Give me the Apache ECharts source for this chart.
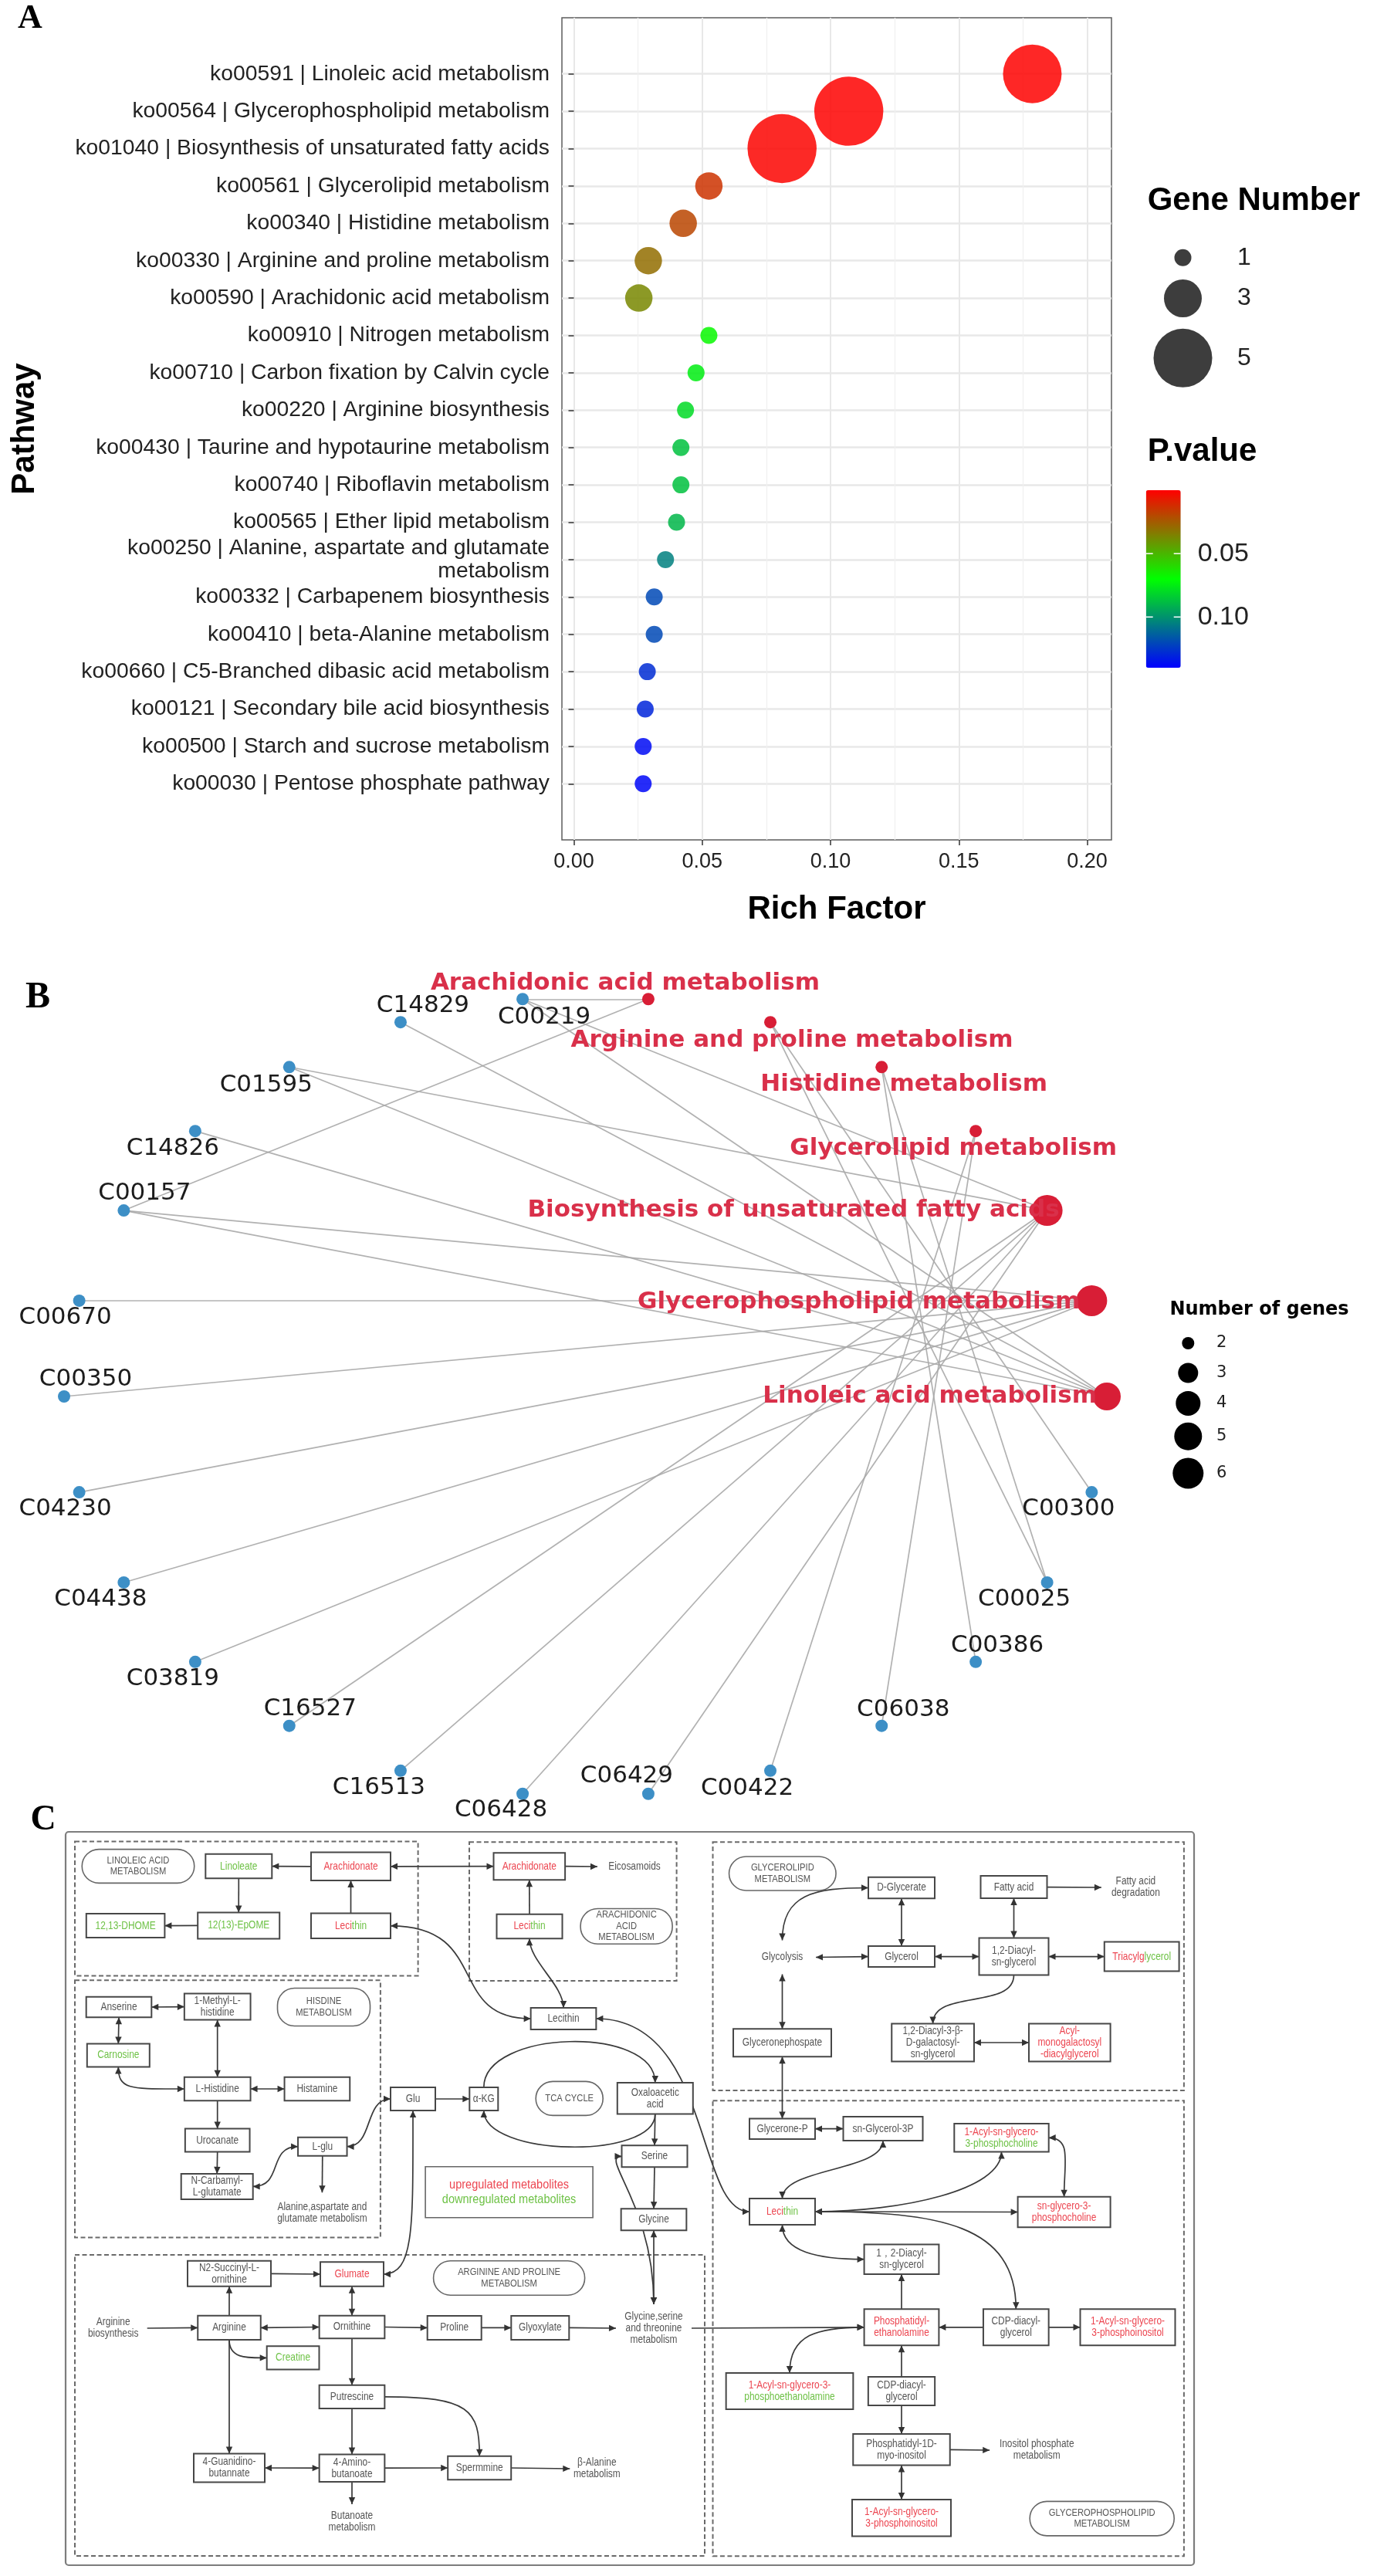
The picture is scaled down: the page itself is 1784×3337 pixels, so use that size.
<!DOCTYPE html>
<html><head><meta charset="utf-8">
<script src="https://cdn.jsdelivr.net/npm/echarts@6/dist/echarts.min.js"></script>
<style>html,body{margin:0;padding:0;background:#fff}#c{width:1784px;height:3337px}</style>
</head><body><div id="c"></div>
<script>
// ================= PANEL A DATA =================
const pathways = [
 'ko00591 | Linoleic acid metabolism',
 'ko00564 | Glycerophospholipid metabolism',
 'ko01040 | Biosynthesis of unsaturated fatty acids',
 'ko00561 | Glycerolipid metabolism',
 'ko00340 | Histidine metabolism',
 'ko00330 | Arginine and proline metabolism',
 'ko00590 | Arachidonic acid metabolism',
 'ko00910 | Nitrogen metabolism',
 'ko00710 | Carbon fixation by Calvin cycle',
 'ko00220 | Arginine biosynthesis',
 'ko00430 | Taurine and hypotaurine metabolism',
 'ko00740 | Riboflavin metabolism',
 'ko00565 | Ether lipid metabolism',
 'ko00250 | Alanine, aspartate and glutamate\nmetabolism',
 'ko00332 | Carbapenem biosynthesis',
 'ko00410 | beta-Alanine metabolism',
 'ko00660 | C5-Branched dibasic acid metabolism',
 'ko00121 | Secondary bile acid biosynthesis',
 'ko00500 | Starch and sucrose metabolism',
 'ko00030 | Pentose phosphate pathway'
];
const richFactor = [0.1786, 0.1071, 0.0811, 0.0526, 0.0426, 0.0290, 0.0253, 0.0526, 0.0476, 0.0435,
                    0.0417, 0.0417, 0.0400, 0.0357, 0.0313, 0.0313, 0.0286, 0.0278, 0.0270, 0.0270];
const geneNumber = [5, 6, 6, 2, 2, 2, 2, 1, 1, 1, 1, 1, 1, 1, 1, 1, 1, 1, 1, 1];
const pValue = [0.0004, 0.0003, 0.0010, 0.014, 0.019, 0.030, 0.037, 0.068, 0.075, 0.080,
                0.087, 0.087, 0.090, 0.105, 0.120, 0.120, 0.128, 0.130, 0.137, 0.138];
const richTicks = [0, 0.05, 0.10, 0.15, 0.20];
const geneLegend = [1, 3, 5];
const pLegendTicks = [0.05, 0.10];
const pRange = [0, 0.14];

// ================= PANEL B DATA =================
const netNodes = ['Linoleic acid metabolism', 'Glycerophospholipid metabolism',
 'Biosynthesis of unsaturated fatty acids', 'Glycerolipid metabolism', 'Histidine metabolism',
 'Arginine and proline metabolism', 'Arachidonic acid metabolism',
 'C00219', 'C14829', 'C01595', 'C14826', 'C00157', 'C00670', 'C00350', 'C04230', 'C04438',
 'C03819', 'C16527', 'C16513', 'C06428', 'C06429', 'C00422', 'C06038', 'C00386', 'C00025', 'C00300'];
const netPathways = netNodes.slice(0, 7);
const netLinks = [
 ['C00219', 'Arachidonic acid metabolism'], ['C00157', 'Arachidonic acid metabolism'],
 ['C00025', 'Arginine and proline metabolism'], ['C00300', 'Arginine and proline metabolism'],
 ['C00025', 'Histidine metabolism'], ['C00386', 'Histidine metabolism'],
 ['C00422', 'Glycerolipid metabolism'], ['C06038', 'Glycerolipid metabolism'],
 ['C00219', 'Biosynthesis of unsaturated fatty acids'], ['C01595', 'Biosynthesis of unsaturated fatty acids'],
 ['C16527', 'Biosynthesis of unsaturated fatty acids'], ['C16513', 'Biosynthesis of unsaturated fatty acids'],
 ['C06428', 'Biosynthesis of unsaturated fatty acids'], ['C06429', 'Biosynthesis of unsaturated fatty acids'],
 ['C00157', 'Glycerophospholipid metabolism'], ['C00670', 'Glycerophospholipid metabolism'],
 ['C00350', 'Glycerophospholipid metabolism'], ['C04230', 'Glycerophospholipid metabolism'],
 ['C04438', 'Glycerophospholipid metabolism'], ['C03819', 'Glycerophospholipid metabolism'],
 ['C00157', 'Linoleic acid metabolism'], ['C00219', 'Linoleic acid metabolism'],
 ['C01595', 'Linoleic acid metabolism'], ['C14826', 'Linoleic acid metabolism'],
 ['C14829', 'Linoleic acid metabolism']
];
const geneCountLegend = [2, 3, 4, 5, 6];

// ================= PANEL C DATA (pathway map) =================
const cNodes = [
 ['linLabel','pill','LINOLEIC ACID\nMETABOLISM'], ['linoleate','box','{g|Linoleate}'],
 ['araL','box','{r|Arachidonate}'], ['dhome','box','{g|12,13-DHOME}'], ['epome','box','{g|12(13)-EpOME}'],
 ['lecL','box','{r|Leci}{g|thin}'], ['araR','box','{r|Arachidonate}'], ['eico','text','Eicosamoids'],
 ['lecR','box','{r|Leci}{g|thin}'], ['araLabel','pill','ARACHIDONIC\nACID\nMETABOLISM'],
 ['anserine','box','Anserine'], ['methylHis','box','1-Methyl-L-\nhistidine'], ['hisLabel','pill','HISDINE\nMETABOLISM'],
 ['carnosine','box','{g|Carnosine}'], ['lHis','box','L-Histidine'], ['histamine','box','Histamine'],
 ['urocanate','box','Urocanate'], ['lglu','box','L-glu'], ['ncarb','box','N-Carbamyl-\nL-glutamate'],
 ['alaText','text','Alanine,aspartate and\nglutamate metabolism'],
 ['lecM','box','Lecithin'], ['glu','box','Glu'], ['akg','box','α-KG'], ['tcaLabel','pill','TCA CYCLE'],
 ['oxa','box','Oxaloacetic\nacid'], ['serine','box','Serine'], ['glycine','box','Glycine'],
 ['legend','legend','{r|upregulated metabolites}\n{g|downregulated metabolites}'],
 ['glyText','text','Glycine,serine\nand threonine\nmetabolism'],
 ['n2suc','box','N2-Succinyl-L-\nornithine'], ['glumate','box','{r|Glumate}'],
 ['argLabel','pill','ARGININE AND PROLINE\nMETABOLISM'], ['argBioText','text','Arginine\nbiosynthesis'],
 ['arginine','box','Arginine'], ['ornithine','box','Ornithine'], ['proline','box','Proline'],
 ['glyoxylate','box','Glyoxylate'], ['creatine','box','{g|Creatine}'], ['putrescine','box','Putrescine'],
 ['guan','box','4-Guanidino-\nbutannate'], ['amino','box','4-Amino-\nbutanoate'], ['spermine','box','Spermmine'],
 ['betaText','text','β-Alanine\nmetabolism'], ['butText','text','Butanoate\nmetabolism'],
 ['glLabel','pill','GLYCEROLIPID\nMETABOLISM'], ['dglycerate','box','D-Glycerate'], ['fattyacid','box','Fatty acid'],
 ['faDegText','text','Fatty acid\ndegradation'], ['glycolysis','text','Glycolysis'], ['glycerol','box','Glycerol'],
 ['dag','box','1,2-Diacyl-\nsn-glycerol'], ['tag','box','{r|Triacylg}{g|lycerol}'], ['gnp','box','Glyceronephospate'],
 ['dgdg','box','1,2-Diacyl-3-β-\nD-galactosyl-\nsn-glycerol'], ['amgdg','box','{r|Acyl-}\n{r|monogalactosyl}\n{r|-diacylglycerol}'],
 ['gp','box','Glycerone-P'], ['sng3p','box','sn-Glycerol-3P'], ['lpc','box','{r|1-Acyl-sn-glycero-}\n{g|3-phosphocholine}'],
 ['lecG','box','{r|Leci}{g|thin}'], ['gpc','box','{r|sn-glycero-3-}\n{r|phosphocholine}'],
 ['dag2','box','1，2-Diacyl-\nsn-glycerol'], ['pe','box','{r|Phosphatidyl-}\n{r|ethanolamine}'],
 ['cdp1','box','CDP-diacyl-\nglycerol'], ['lpi1','box','{r|1-Acyl-sn-glycero-}\n{r|3-phosphoinositol}'],
 ['lpe','box','{r|1-Acyl-sn-glycero-3-}\n{g|phosphoethanolamine}'], ['cdp2','box','CDP-diacyl-\nglycerol'],
 ['pi','box','Phosphatidyl-1D-\nmyo-inositol'], ['inoText','text','Inositol phosphate\nmetabolism'],
 ['lpi2','box','{r|1-Acyl-sn-glycero-}\n{r|3-phosphoinositol}'], ['gplLabel','pill','GLYCEROPHOSPHOLIPID\nMETABOLISM']
];
// reactions: [from, side, to, side, heads, curve control lengths]
const cEdges = [
 ['araL','l','linoleate','r','>'], ['linoleate','b','epome','t','>'], ['epome','l','dhome','r','>'],
 ['lecL','t','araL','b','>'], ['araL','r','araR','l','<>'], ['araR','r','eico','l','>'], ['lecR','t','araR','b','>'],
 ['lecL','r','lecM','l','<>',[130,110]], ['lecR','b','lecM','t','<>',[30,30]], ['lecM','r','lecG','l','<>',[150,70]],
 ['anserine','r','methylHis','l','<>'], ['anserine','b','carnosine','t','<>'], ['methylHis','b','lHis','t','<>'],
 ['carnosine','b','lHis','l','<>',[30,70]], ['lHis','r','histamine','l','<>'], ['lHis','b','urocanate','t','>'],
 ['urocanate','b','ncarb','t','>'], ['ncarb','r','lglu','l','<>',[40,40]], ['lglu','r','glu','l','<>',[35,35]],
 ['lglu','b','alaText','t','>'], ['glu','r','akg','l','>'], ['akg','t','oxa','t','>',[75,75]],
 ['oxa','b','akg','b','>',[60,60]], ['oxa','b','serine','t','>'], ['serine','b','glycine','t','>'],
 ['glycine','b','glyText','t','<>'], ['serine','l','glyText','t','<>',[30,130]], ['glu','b','glumate','r','<>',[150,40]],
 ['argBioText','r','arginine','l','>'], ['arginine','t','n2suc','b','>'], ['n2suc','r','glumate','l','>'],
 ['glumate','b','ornithine','t','<>'], ['arginine','r','ornithine','l','<>'], ['arginine','b','creatine','l','>',[25,25]],
 ['arginine','b','guan','t','>'], ['ornithine','r','proline','l','>'], ['proline','r','glyoxylate','l','>'],
 ['glyoxylate','r','glyText','l','>'], ['ornithine','b','putrescine','t','>'], ['putrescine','b','amino','t','>'],
 ['putrescine','r','spermine','t','>',[110,60]], ['guan','r','amino','l','<>'], ['amino','r','spermine','l','>'],
 ['spermine','r','betaText','l','>'], ['amino','b','butText','t','>'],
 ['dglycerate','l','glycolysis','t','<>',[70,60]], ['dglycerate','b','glycerol','t','<>'], ['fattyacid','b','dag','t','<>'],
 ['fattyacid','r','faDegText','l','>'], ['glycolysis','r','glycerol','l','<>'], ['glycerol','r','dag','l','<>'],
 ['dag','r','tag','l','<>'], ['dag','b','dgdg','t','>',[45,45]], ['dgdg','r','amgdg','l','<>'],
 ['glycolysis','b','gnp','t','<>'], ['gnp','b','gp','t','<>'], ['gp','r','sng3p','l','<>'],
 ['lecG','t','sng3p','b','<>',[40,40]], ['lecG','r','lpc','b','<>',[110,50]], ['lecG','r','gpc','l','<>'],
 ['lpc','r','gpc','t','<>',[30,45]], ['lecG','r','cdp1','t','>',[160,110]], ['lecG','b','dag2','l','<>',[35,60]],
 ['pe','t','dag2','b','>'], ['cdp1','l','pe','r','>'], ['cdp1','r','lpi1','l','>'], ['pe','l','lpe','t','<>',[60,50]],
 ['cdp2','t','pe','b','>'], ['cdp2','b','pi','t','>'], ['pi','r','inoText','l','>'], ['pi','b','lpi2','t','<>'],
 ['glyText','r','pe','l','>']
];

// ================= LAYOUT / STYLE (not data) =================
const SANS = '"Liberation Sans", Arial, Helvetica, sans-serif';
const DJ = '"DejaVu Sans", sans-serif';
const SERIF = '"Liberation Serif", "Times New Roman", serif';
const A_LEFT = 728, A_RIGHT = 1440, A_TOP = 23, A_BOTTOM = 1088;
const X0PX = 743.5, PX_PER_UNIT = 3325.5;
const XMIN = (A_LEFT - X0PX) / PX_PER_UNIT, XMAX = (A_RIGHT - X0PX) / PX_PER_UNIT;
const ROW_TOP = 95.7, ROW_BOTTOM = 1015.3;
const bubble = n => 22 + 13.5 * (n - 1);
const CB = {left: 1484.7, top: 635, w: 45, h: 230};
const geneLegendY = [333.7, 386.5, 463.8];

const B = {cx: 758.5, cy: 1809, rx: 675.5, ry: 518.5};
const netSize = {2: 16, 3: 26, 4: 32, 5: 36, 6: 40};
const netLegendY = [1740, 1778.5, 1817.9, 1860.7, 1908.6];
const RED = '#d81e36', REDT = '#d9304a', BLUE = '#3d8fc6';
const netLabelPos = {
 'Linoleic acid metabolism': [-13, 0, 'right'], 'Glycerophospholipid metabolism': [-15, 2, 'right'],
 'Biosynthesis of unsaturated fatty acids': [16, 0, 'right'], 'Glycerolipid metabolism': [-29, 23],
 'Histidine metabolism': [29, 23], 'Arginine and proline metabolism': [28, 24],
 'Arachidonic acid metabolism': [-30, -20],
 'C00219': [28, 23.5], 'C14829': [29, -21], 'C01595': [-30, 23.5], 'C14826': [-29, 23], 'C00157': [27, -22],
 'C00670': [-18, 22], 'C00350': [28, -22], 'C04230': [-18, 22], 'C04438': [-30, 22], 'C03819': [-29, 22],
 'C16527': [27, -21.5], 'C16513': [-28, 22], 'C06428': [-28, 21], 'C06429': [-28, -23], 'C00422': [-30, 23],
 'C06038': [28, -21], 'C00386': [28, -21], 'C00025': [-29.5, 21.7], 'C00300': [-30, 21.5]
};

// panel C layout: id -> [cx, cy, w, h] in page pixels of the reference
const cLayout = {
 linLabel:[179,2417.5,145.5,43.7], linoleate:[309.3,2417.6,86,31.5], araL:[454.5,2417.8,103,36.5],
 dhome:[162.6,2494.6,101.6,31], epome:[309.2,2494.4,106,34], lecL:[454.5,2494.8,103,32.5],
 araR:[685.8,2417.7,92.6,35], eico:[822,2418,96,16], lecR:[686,2495.5,85,31.5], araLabel:[811.6,2495.4,119,45.7],
 anserine:[154,2600,84.6,26.5], methylHis:[281.7,2599.6,85.7,34], hisLabel:[419.5,2600,120,49],
 carnosine:[153.3,2662.5,81,30], lHis:[281.7,2706,85.7,30.5], histamine:[410.9,2706,84.7,30.5],
 urocanate:[281.7,2772.6,83.7,30], lglu:[417.8,2780.7,63.5,24], ncarb:[281.2,2832.4,93,33],
 alaText:[417.4,2866.3,125,52],
 lecM:[730,2615,84.7,28], glu:[535,2719,58,30], akg:[626.8,2719,37,30], tcaLabel:[737.7,2718.4,87,44],
 oxa:[848.8,2718.2,98,40.4], serine:[848,2793.3,85,28], glycine:[847,2875.2,84.7,28],
 legend:[659.6,2839.8,217,66], glyText:[847,3016,98,62],
 n2suc:[297,2945.3,108,33], glumate:[456,2946,82,31.4], argLabel:[659.6,2951,196,44.5],
 argBioText:[146.7,3016,88,30], arginine:[297,3015.4,81.5,31.3], ornithine:[456,3014.5,84.7,29.7],
 proline:[588.7,3015.4,70,31], glyoxylate:[699.8,3015.4,75,31], creatine:[379.6,3054.4,67.8,30.3],
 putrescine:[456,3104.9,84.7,30.3], guan:[297,3197,92,37], amino:[456,3197.2,84.7,35.6],
 spermine:[621.2,3197,82,30.7], betaText:[773.3,3198,70,30], butText:[456,3267,70,46],
 glLabel:[1013.8,2427,138.5,44], dglycerate:[1168,2445.5,86,27.5], fattyacid:[1313.5,2444.6,86,29],
 faDegText:[1471.4,2445,89,30], glycolysis:[1013.5,2535.5,87,44], glycerol:[1168,2534.6,86,27],
 dag:[1313.5,2534.6,90,48], tag:[1479.2,2534.6,96.8,38], gnp:[1013.5,2646.2,127,36],
 dgdg:[1208.6,2646,106.7,48.8], amgdg:[1385.8,2646,105.6,48.8],
 gp:[1013.5,2757.7,85,26.5], sng3p:[1144,2757.6,103,31], lpc:[1297.5,2769.3,122.4,36.5],
 lecG:[1013.5,2865,85,34], gpc:[1378.6,2865.5,120,39.6], dag2:[1168,2926.7,96.8,38.6],
 pe:[1168,3014.8,96.8,47], cdp1:[1316.3,3014.8,84.7,47], lpi1:[1461,3014.8,123,47],
 lpe:[1023,3097.4,164.7,47], cdp2:[1168,3097.4,86.3,37], pi:[1168,3173.3,125.5,40.6],
 inoText:[1343.2,3174,122,30], lpi2:[1168,3261.8,128,47.5], gplLabel:[1427.7,3262.6,187,44.5]
};
const cFrames = [
 [85, 2373, 1547, 3323, 'solid'],
 [97, 2385.6, 541.6, 2559.4, 'dash'], [608, 2386.3, 876.6, 2566, 'dash'],
 [97, 2565.3, 492.9, 2898.5, 'dash'], [97, 2921, 913, 3311, 'dash'],
 [923.5, 2386.3, 1533.9, 2708, 'dash'], [923.5, 2721.2, 1533.9, 3311.3, 'dash']
];
const C_X = [85, 1547], C_Y = [2373, 3323];
const C_RICH = {r: {fill: '#ec4651'}, g: {fill: '#6fc247'}};
const C_FONT = {box: [14.2, 0.84, 15], pill: [13, 0.86, 14.5], text: [14, 0.85, 15], legend: [16.5, 0.88, 19]};
const SIDE = {l: [-1, 0], r: [1, 0], t: [0, -1], b: [0, 1]};

// ================= BUILD =================
const scatterData = pathways.map((p, i) => [richFactor[i], p, geneNumber[i], pValue[i]]);

const degree = name => netLinks.filter(l => l[0] === name || l[1] === name).length;
const netData = netNodes.map((name, k) => {
  const th = 2 * Math.PI * k / netNodes.length;   // circular layout
  const isPath = netPathways.indexOf(name) >= 0;
  const lp = netLabelPos[name];
  return {
    name: name, value: [Math.cos(th), Math.sin(th)],
    symbolSize: isPath ? netSize[degree(name)] : 16,
    itemStyle: {color: isPath ? RED : BLUE},
    label: {
      show: true, position: 'inside', offset: [lp[0], lp[1]],
      align: lp[2] || 'center', verticalAlign: 'middle',
      fontFamily: DJ, fontSize: 31, fontWeight: isPath ? 'bold' : 'normal',
      color: isPath ? REDT : '#1c1c1c'
    }
  };
});

function anchor(id, side) {
  const L = cLayout[id], d = SIDE[side];
  return [L[0] + d[0] * L[2] / 2, L[1] + d[1] * L[3] / 2];
}
function arrowHead(tip, dir) {
  const len = Math.hypot(dir[0], dir[1]) || 1;
  const u = [dir[0] / len, dir[1] / len], p = [-u[1], u[0]];
  const bx = tip[0] - u[0] * 9, by = tip[1] - u[1] * 9;
  return {type: 'polygon', shape: {points: [tip, [bx + p[0] * 4.2, by + p[1] * 4.2], [bx - p[0] * 4.2, by - p[1] * 4.2]]},
          style: {fill: '#333'}};
}

const option = {
  animation: false,
  backgroundColor: '#ffffff',
  grid: [
    {left: A_LEFT, top: A_TOP, width: A_RIGHT - A_LEFT, height: A_BOTTOM - A_TOP, show: true,
     borderColor: '#5c5c5c', borderWidth: 1.5, backgroundColor: 'transparent', outerBoundsMode: 'none'},
    {left: X0PX, top: A_TOP, width: 0.2 * PX_PER_UNIT, height: A_BOTTOM - A_TOP, outerBoundsMode: 'none'},
    {left: A_LEFT, top: ROW_TOP, width: A_RIGHT - A_LEFT, height: ROW_BOTTOM - ROW_TOP, outerBoundsMode: 'none'},
    {left: B.cx - B.rx, top: B.cy - B.ry, width: 2 * B.rx, height: 2 * B.ry, outerBoundsMode: 'none'},
    {left: C_X[0], top: C_Y[0], width: C_X[1] - C_X[0], height: C_Y[1] - C_Y[0], outerBoundsMode: 'none'}
  ],
  xAxis: [
    {gridIndex: 0, type: 'value', min: XMIN, max: XMAX, show: false},
    {gridIndex: 1, type: 'value', min: richTicks[0], max: richTicks[richTicks.length - 1], interval: 0.05,
     axisLine: {show: false},
     axisTick: {show: true, length: 7, lineStyle: {color: '#333', width: 1.5}},
     axisLabel: {margin: 15, fontFamily: SANS, fontSize: 27, color: '#222', formatter: v => v.toFixed(2)},
     splitLine: {show: true, lineStyle: {color: '#e8e8e8', width: 2}},
     minorTick: {show: false, splitNumber: 2},
     minorSplitLine: {show: true, lineStyle: {color: '#f0f0f0', width: 1.3}}},
    {gridIndex: 2, type: 'value', min: XMIN, max: XMAX, show: false},
    {gridIndex: 3, type: 'value', min: -1, max: 1, show: false},
    {gridIndex: 4, type: 'value', min: C_X[0], max: C_X[1], show: false}
  ],
  yAxis: [
    {gridIndex: 0, type: 'value', show: false},
    {gridIndex: 1, type: 'value', show: false},
    {gridIndex: 2, type: 'category', data: pathways, inverse: true, boundaryGap: false,
     axisLine: {show: false},
     axisTick: {show: true, length: 7, interval: 0, lineStyle: {color: '#333', width: 1.5}},
     axisLabel: {interval: 0, margin: 16, fontFamily: SANS, fontSize: 28.3, color: '#222', lineHeight: 30, align: 'right'},
     splitLine: {show: true, interval: 0, lineStyle: {color: '#e8e8e8', width: 2.5}}},
    {gridIndex: 3, type: 'value', min: -1, max: 1, show: false},
    {gridIndex: 4, type: 'value', min: C_Y[0], max: C_Y[1], inverse: true, show: false}
  ],
  visualMap: [{
    type: 'continuous', seriesIndex: 0, dimension: 3, min: pRange[0], max: pRange[1],
    inRange: {color: ['#ff0000', '#00ff00', '#0000ff']}, inverse: true, calculable: false,
    orient: 'vertical', left: CB.left, top: CB.top, itemWidth: CB.w, itemHeight: CB.h,
    padding: 0, text: null, showLabel: false, hoverLink: false, realtime: false
  }],
  series: [
    {
      type: 'scatter', xAxisIndex: 2, yAxisIndex: 2, data: scatterData, z: 5,
      symbolSize: v => bubble(v[2]), itemStyle: {opacity: 0.85}, silent: true
    },
    {
      type: 'graph', coordinateSystem: 'cartesian2d', xAxisIndex: 3, yAxisIndex: 3, layout: 'none',
      data: netData, links: netLinks.map(l => ({source: l[0], target: l[1]})),
      lineStyle: {color: '#a8a8a8', width: 1.7, opacity: 0.9, curveness: 0}, silent: true, z: 3
    },
    { // dashed group frames
      type: 'custom', xAxisIndex: 4, yAxisIndex: 4, silent: true, z: 2, clip: false,
      data: cFrames.map(f => [f[0], f[1], f[2], f[3]]),
      renderItem: function (params, api) {
        const f = cFrames[params.dataIndex];
        const a = api.coord([f[0], f[1]]), b = api.coord([f[2], f[3]]);
        const dash = f[4] === 'dash';
        return {type: 'rect', shape: {x: a[0], y: a[1], width: b[0] - a[0], height: b[1] - a[1], r: dash ? 0 : 4},
                style: {fill: null, stroke: dash ? '#6a6a6a' : '#7d7d7d', lineWidth: dash ? 2 : 2.2,
                        lineDash: dash ? [6, 3.5] : null}};
      }
    },
    { // reactions
      type: 'custom', xAxisIndex: 4, yAxisIndex: 4, silent: true, z: 3, clip: false,
      data: cEdges.map(e => anchor(e[0], e[1])),
      renderItem: function (params, api) {
        const e = cEdges[params.dataIndex];
        const a = anchor(e[0], e[1]), b = anchor(e[2], e[3]);
        const p1 = api.coord(a), p2 = api.coord(b);
        const st = {stroke: '#3a3a3a', lineWidth: 1.7, fill: null};
        const ch = [];
        let dEnd, dStart;
        if (e[5]) {
          const s1 = SIDE[e[1]], s2 = SIDE[e[3]];
          const c1 = api.coord([a[0] + s1[0] * e[5][0], a[1] + s1[1] * e[5][0]]);
          const c2 = api.coord([b[0] + s2[0] * e[5][1], b[1] + s2[1] * e[5][1]]);
          ch.push({type: 'bezierCurve', shape: {x1: p1[0], y1: p1[1], x2: p2[0], y2: p2[1],
                   cpx1: c1[0], cpy1: c1[1], cpx2: c2[0], cpy2: c2[1]}, style: st});
          dEnd = [p2[0] - c2[0], p2[1] - c2[1]]; dStart = [p1[0] - c1[0], p1[1] - c1[1]];
        } else {
          ch.push({type: 'line', shape: {x1: p1[0], y1: p1[1], x2: p2[0], y2: p2[1]}, style: st});
          dEnd = [p2[0] - p1[0], p2[1] - p1[1]]; dStart = [-dEnd[0], -dEnd[1]];
        }
        ch.push(arrowHead(p2, dEnd));
        if (e[4] === '<>') ch.push(arrowHead(p1, dStart));
        return {type: 'group', children: ch};
      }
    },
    { // metabolite boxes and labels
      type: 'custom', xAxisIndex: 4, yAxisIndex: 4, silent: true, z: 4, clip: false,
      data: cNodes.map(n => [cLayout[n[0]][0], cLayout[n[0]][1]]),
      renderItem: function (params, api) {
        const n = cNodes[params.dataIndex], L = cLayout[n[0]], kind = n[1];
        const c = api.coord([L[0], L[1]]), s = api.size([L[2], L[3]]);
        const ch = [];
        if (kind !== 'text') {
          ch.push({type: 'rect', shape: {x: c[0] - s[0] / 2, y: c[1] - s[1] / 2, width: s[0], height: s[1],
                   r: kind === 'pill' ? Math.min(s[1] / 2, 22) : 0},
                   style: {fill: '#fff', stroke: kind === 'box' ? '#474747' : '#666',
                           lineWidth: kind === 'box' ? 2 : 1.6}});
        }
        const f = C_FONT[kind];
        ch.push({type: 'text', x: c[0], y: c[1], scaleX: f[1], scaleY: 1,
                 style: {text: n[2], rich: C_RICH, fill: '#555', fontFamily: SANS, fontSize: f[0],
                         lineHeight: f[2], align: 'center', verticalAlign: 'middle'}});
        return {type: 'group', children: ch};
      }
    }
  ],
  graphic: []
};

const G = option.graphic;
// panel letters
G.push({type: 'text', x: 39, y: 25, style: {text: 'A', font: 'bold 44px ' + SERIF, fill: '#000', align: 'center', verticalAlign: 'middle'}});
G.push({type: 'text', x: 49, y: 1293, style: {text: 'B', font: 'bold 48px ' + SERIF, fill: '#000', align: 'center', verticalAlign: 'middle'}});
G.push({type: 'text', x: 56, y: 2358, style: {text: 'C', font: 'bold 46px ' + SERIF, fill: '#000', align: 'center', verticalAlign: 'middle'}});
// axis titles A
G.push({type: 'text', x: 32, y: (A_TOP + A_BOTTOM) / 2, rotation: Math.PI / 2,
        style: {text: 'Pathway', font: 'bold 42px ' + SANS, fill: '#000', align: 'center', verticalAlign: 'middle'}});
G.push({type: 'text', x: (A_LEFT + A_RIGHT) / 2, y: 1178,
        style: {text: 'Rich Factor', font: 'bold 42px ' + SANS, fill: '#000', align: 'center', verticalAlign: 'middle'}});
// legend A: gene number
G.push({type: 'text', x: 1486.7, y: 260, style: {text: 'Gene Number', font: 'bold 42px ' + SANS, fill: '#000', verticalAlign: 'middle'}});
geneLegend.forEach((g, i) => {
  G.push({type: 'circle', shape: {cx: 1532.5, cy: geneLegendY[i], r: bubble(g) / 2}, style: {fill: '#333', opacity: 0.95}});
  G.push({type: 'text', x: 1603, y: geneLegendY[i], style: {text: String(g), font: '32px ' + SANS, fill: '#222', verticalAlign: 'middle'}});
});
// legend A: p value
G.push({type: 'text', x: 1486.7, y: 585, style: {text: 'P.value', font: 'bold 42px ' + SANS, fill: '#000', verticalAlign: 'middle'}});
pLegendTicks.forEach(v => {
  const y = CB.top + CB.h * (v - pRange[0]) / (pRange[1] - pRange[0]);
  G.push({type: 'line', shape: {x1: CB.left, y1: y, x2: CB.left + 9, y2: y}, style: {stroke: '#fff', lineWidth: 1.5}, z: 10});
  G.push({type: 'line', shape: {x1: CB.left + CB.w - 9, y1: y, x2: CB.left + CB.w, y2: y}, style: {stroke: '#fff', lineWidth: 1.5}, z: 10});
  G.push({type: 'text', x: 1551.7, y: y, style: {text: v.toFixed(2), font: '34px ' + SANS, fill: '#222', verticalAlign: 'middle'}});
});
// legend B
G.push({type: 'text', x: 1515.4, y: 1696.3, style: {text: 'Number of genes', font: 'bold 24px ' + DJ, fill: '#000', verticalAlign: 'middle'}});
geneCountLegend.forEach((g, i) => {
  G.push({type: 'circle', shape: {cx: 1539.3, cy: netLegendY[i], r: netSize[g] / 2}, style: {fill: '#000'}});
  G.push({type: 'text', x: 1576, y: netLegendY[i], style: {text: String(g), font: '21px ' + DJ, fill: '#222', verticalAlign: 'middle'}});
});

const chart = echarts.init(document.getElementById('c'), null, {renderer: 'canvas', width: 1784, height: 3337});
chart.setOption(option);
</script></body></html>
